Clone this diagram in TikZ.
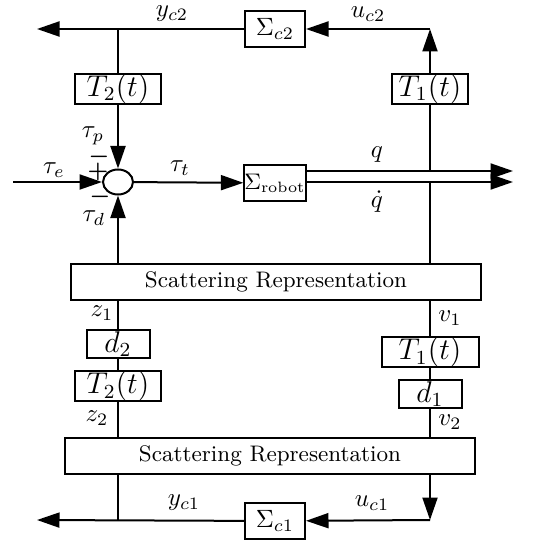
\documentclass[tikz,border=0pt]{standalone}
\usepackage{amsmath,amssymb}
\usepackage{tikz}
\usetikzlibrary{arrows.meta}
\usetikzlibrary{shapes.geometric}

\begin{document}
\begin{tikzpicture}[x=0.4pt, y=-0.4pt, line width=0.8pt,
        >={Triangle[length=9pt,width=6pt]},
        sig/.style={draw, rectangle, minimum width=24pt, minimum height=14.4pt, inner sep=0pt},
        tbox/.style={draw, rectangle, minimum height=11.4pt, inner sep=0pt, font=\large},
        scat/.style={draw, rectangle, minimum width=164pt, minimum height=14.2pt, inner sep=0pt, font=\small},
        lbl/.style={inner sep=1pt},
        sgn/.style={inner sep=0pt, font=\small}]
    \useasboundingbox (0,0) rectangle (540,545);

    % blocks
    \node[sig] (sc2) at (275,29) {$\Sigma_{c2}$};
    \node[tbox, minimum width=34.4pt] (T2a) at (118,89) {$T_2(t)$};
    \node[tbox, minimum width=30.4pt] (T1a) at (430,89) {$T_1(t)$};
    \node[draw, ellipse, minimum width=12pt, minimum height=10pt, inner sep=0pt] (sum) at (118,182) {};
    \node[sig, font=\small] (robot) at (275,183) {$\Sigma_{\mathrm{robot}}$};
    \node[scat] (scatA) at (276,282) {Scattering Representation};
    \node[tbox, minimum width=25.2pt] (d2) at (118,344) {$d_2$};
    \node[tbox, minimum width=34.4pt] (T2b) at (118,386) {$T_2(t)$};
    \node[tbox, minimum width=38.8pt] (T1b) at (430,352) {$T_1(t)$};
    \node[tbox, minimum width=25.2pt] (d1) at (430,394) {$d_1$};
    \node[scat] (scatB) at (270,456) {Scattering Representation};
    \node[sig] (sc1) at (275,521) {$\Sigma_{c1}$};

    % corner points
    \coordinate (tl) at (37,29);
    \coordinate (tj) at (118,29);
    \coordinate (tr) at (430,29);
    \coordinate (tin) at (13,182);
    \coordinate (qout) at (513,171);
    \coordinate (qdout) at (513,182);
    \coordinate (rq) at (430,171);
    \coordinate (rqd) at (430,182);
    \coordinate (bl) at (37,520);
    \coordinate (bj) at (118,520);
    \coordinate (br) at (430,520);

    % labels
    \node[lbl] (yc2) at (172,14) {$y_{c2}$};
    \node[lbl] (uc2) at (368,14) {$u_{c2}$};
    \node[lbl] (taup) at (93,136) {$\tau_p$};
    \node[sgn] (m1) at (99,157) {$\boldsymbol{-}$};
    \node[sgn] (p1) at (98,172) {$\boldsymbol{+}$};
    \node[sgn] (m2) at (100,197) {$\boldsymbol{-}$};
    \node[lbl] (taue) at (54,170) {$\tau_e$};
    \node[lbl] (taud) at (94,218) {$\tau_d$};
    \node[lbl] (taut) at (180,168) {$\tau_t$};
    \node[lbl] (q) at (377,155) {$q$};
    \node[lbl] (qd) at (377,202) {$\dot{q}$};
    \node[lbl] (z1) at (102,313) {$z_1$};
    \node[lbl] (v1) at (450,318) {$v_1$};
    \node[lbl] (z2) at (97,418) {$z_2$};
    \node[lbl] (v2) at (450,422) {$v_2$};
    \node[lbl] (yc1) at (184,503) {$y_{c1}$};
    \node[lbl] (uc1) at (372,503) {$u_{c1}$};

    % upper loop
    \draw[->] (T1a) -- (tr);
    \draw[->] (tr) -- (sc2);
    \draw[->] (sc2) -- (tl);
    \draw (T2a) -- (tj);
    \draw[->] (T2a) -- (sum);
    \draw[->] (tin) -- (sum);
    \draw[->] (sum) -- (robot);
    \draw[->] (robot.east |- qout) -- (qout);
    \draw[->] (robot.east |- qdout) -- (qdout);
    \draw (T1a) -- (rq);
    \draw (rqd) -- (scatA.north -| rqd);
    \draw[->] (scatA.north -| sum) -- (sum);

    % middle
    \draw (scatA.south -| d2) -- (d2);
    \draw (d2) -- (T2b);
    \draw (T2b) -- (scatB.north -| T2b);
    \draw (scatA.south -| T1b) -- (T1b);
    \draw (T1b) -- (d1);
    \draw (d1) -- (scatB.north -| d1);

    % lower loop
    \draw (scatB.south -| bj) -- (bj);
    \draw[->] (sc1) -- (bl);
    \draw[->] (scatB.south -| br) -- (br);
    \draw[->] (br) -- (sc1);
\end{tikzpicture}
\end{document}
